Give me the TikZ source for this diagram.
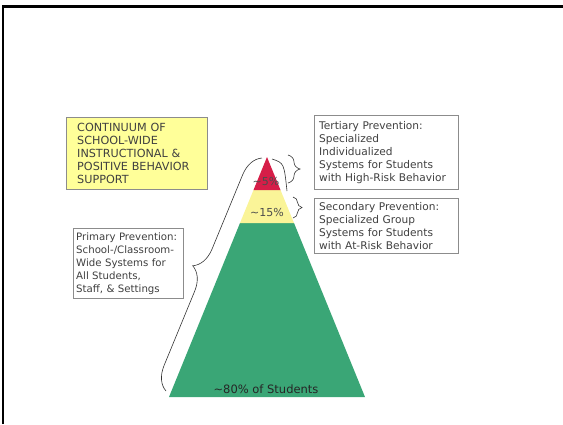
\documentclass[tikz,border=0pt]{standalone}
\usepackage{fontspec}
\setmainfont{DejaVu Sans}
\usetikzlibrary{decorations.pathreplacing}
\definecolor{tierred}{RGB}{214,30,72}
\definecolor{tieryellow}{RGB}{250,244,152}
\definecolor{tiergreen}{RGB}{58,166,118}
\definecolor{titleyellow}{RGB}{255,255,153}
\begin{document}
\begin{tikzpicture}[x=1pt, y=-1pt,
  infobox/.style={draw=black!45, fill=white, text=black!75, align=left, anchor=north west,
    inner xsep=5pt, inner ysep=4pt, font=\fontsize{10.6}{13}\selectfont},
  pct/.style={text=black!70, font=\fontsize{11}{12}\selectfont},
  tierbrace/.style={draw=black!80, line width=0.6pt, decorate}]

      \useasboundingbox (0,0) rectangle (563,424);
      \draw[line width=2.5pt] (3,424) -- (3,6.5) -- (563,6.5);

      % pyramid
      \coordinate (apex) at (267,157);
      \fill[tiergreen] (240,223) -- (294,223) -- (365,397) -- (169,397) -- cycle;
      \fill[tieryellow] (253.5,190) -- (280.5,190) -- (294,223) -- (240,223) -- cycle;
      \fill[tierred] (apex) -- (280.5,190) -- (253.5,190) -- cycle;

      \node[pct] (five) at (266,181) {\textasciitilde5\%};
      \node[pct] (fifteen) at (267,212) {\textasciitilde15\%};
      \node[pct, text=black!85, font=\fontsize{11.5}{12}\selectfont] (eighty) at (266,389) {\textasciitilde80\% of Students};

      % boxes
      \node[infobox, fill=titleyellow, minimum width=141pt, minimum height=72pt, text width=119pt,
        inner xsep=11pt, inner ysep=6pt, font=\fontsize{11.2}{13}\selectfont] (title) at (66,117)
        {CONTINUUM OF\\SCHOOL-WIDE\\INSTRUCTIONAL \&\\POSITIVE BEHAVIOR\\SUPPORT};
      \node[infobox, minimum width=144pt, minimum height=74pt, text width=134pt] (tertiary) at (314,115)
        {Tertiary Prevention:\\Specialized\\Individualized\\Systems for Students\\with High-Risk Behavior};
      \node[infobox, minimum width=144pt, minimum height=55pt, text width=134pt] (secondary) at (314,198)
        {Secondary Prevention:\\Specialized Group\\Systems for Students\\with At-Risk Behavior};
      \node[infobox, minimum width=110pt, minimum height=70pt, text width=104pt, inner xsep=3pt,
        font=\fontsize{10.2}{13}\selectfont] (primary) at (73,228)
        {Primary Prevention:\\School-/Classroom-\\Wide Systems for\\All Students,\\Staff, \& Settings};

      % braces
      \coordinate (pbot) at (166,391);
      \coordinate (ptop) at (262,158);
      \coordinate (ttop) at (288,155);
      \coordinate (tbot) at (288,183);
      \coordinate (stop) at (293,197);
      \coordinate (sbot) at (293,218);
      \coordinate (arcstart) at (272,159);
      \coordinate (arcend) at (287,191);

      \path [tierbrace, decoration={brace, amplitude=23pt}] (pbot) -- (ptop);
      \path [tierbrace, decoration={brace, amplitude=12pt}] (ttop) -- (tbot);
      \path [tierbrace, decoration={brace, amplitude=9pt}] (stop) -- (sbot);
      \draw [black!80, line width=0.6pt] (arcstart) .. controls (284,163) .. (arcend);

      \end{tikzpicture}
\end{document}
